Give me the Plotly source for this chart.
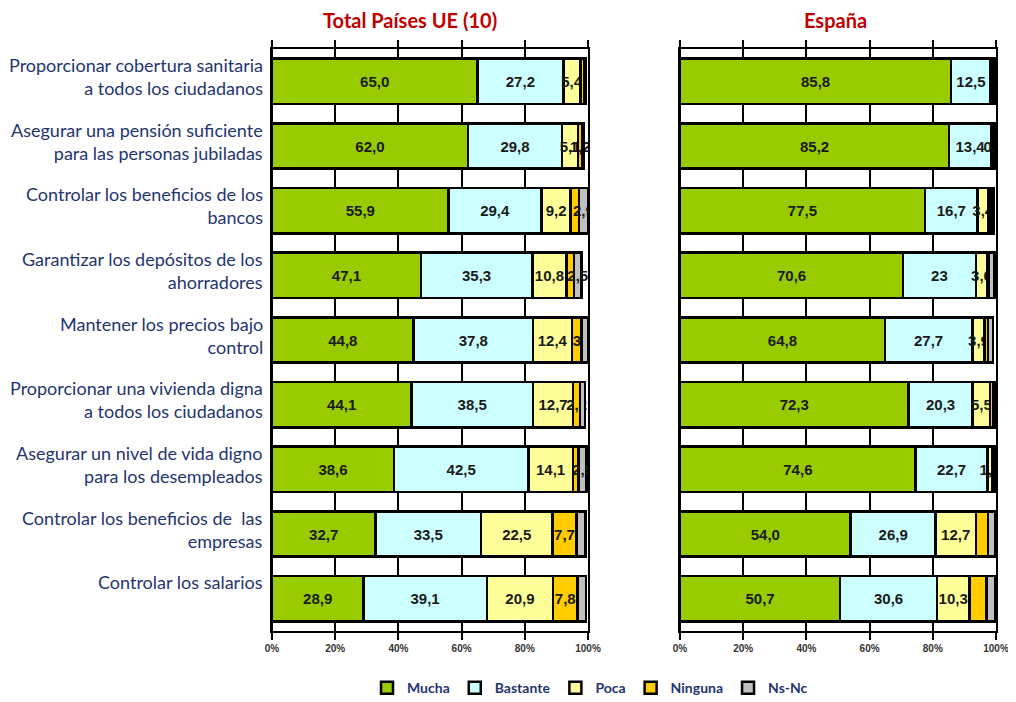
import plotly.graph_objects as go

categorias = [
    "Proporcionar cobertura sanitaria<br>a todos los ciudadanos",
    "Asegurar una pensión suficiente<br>para las personas jubiladas",
    "Controlar los beneficios de los<br>bancos",
    "Garantizar los depósitos de los<br>ahorradores",
    "Mantener los precios bajo<br>control",
    "Proporcionar una vivienda digna<br>a todos los ciudadanos",
    "Asegurar un nivel de vida digno<br>para los desempleados",
    "Controlar los beneficios de  las<br>empresas",
    "Controlar los salarios<br> ",
]

respuestas = ["Mucha", "Bastante", "Poca", "Ninguna", "Ns-Nc"]
colores = ["#99cc00", "#ccffff", "#ffff99", "#ffcc00", "#c0c0c0"]

# Total Países UE (10)
mucha_ue = [65.0, 62.0, 55.9, 47.1, 44.8, 44.1, 38.6, 32.7, 28.9]
bastante_ue = [27.2, 29.8, 29.4, 35.3, 37.8, 38.5, 42.5, 33.5, 39.1]
poca_ue = [5.4, 5.1, 9.2, 10.8, 12.4, 12.7, 14.1, 22.5, 20.9]
ninguna_ue = [1.2, 1.2, 2.6, 2.3, 3.0, 2.2, 1.8, 7.7, 7.8]
nsnc_ue = [0.6, 0.7, 2.9, 2.5, 2.0, 1.5, 2.5, 2.8, 2.7]

# España
mucha_es = [85.8, 85.2, 77.5, 70.6, 64.8, 72.3, 74.6, 54.0, 50.7]
bastante_es = [12.5, 13.4, 16.7, 23.0, 27.7, 20.3, 22.7, 26.9, 30.6]
poca_es = [0.8, 0.4, 3.4, 3.6, 3.9, 5.5, 1.5, 12.7, 10.3]
ninguna_es = [0.5, 0.7, 0.8, 0.4, 1.0, 0.9, 0.6, 3.9, 5.4]
nsnc_es = [0.4, 0.3, 0.8, 2.0, 1.6, 0.9, 0.6, 2.4, 2.9]

# etiquetas visibles en las barras ("" = sin etiqueta)
etiq_ue = [
    ["65,0", "62,0", "55,9", "47,1", "44,8", "44,1", "38,6", "32,7", "28,9"],
    ["27,2", "29,8", "29,4", "35,3", "37,8", "38,5", "42,5", "33,5", "39,1"],
    ["5,4", "5,1", "9,2", "10,8", "12,4", "12,7", "14,1", "22,5", "20,9"],
    ["", "1,2", "", "", "3", "2,2", "", "7,7", "7,8"],
    ["", "", "2,9", "2,5", "", "", "2,5", "", ""],
]
etiq_es = [
    ["85,8", "85,2", "77,5", "70,6", "64,8", "72,3", "74,6", "54,0", "50,7"],
    ["12,5", "13,4", "16,7", "23", "27,7", "20,3", "22,7", "26,9", "30,6"],
    ["", "", "3,4", "3,6", "3,9", "5,5", "1,5", "12,7", "10,3"],
    ["", "0,7", "", "", "", "", "", "", ""],
    ["", "", "", "", "", "", "", "", ""],
]

series_ue = [mucha_ue, bastante_ue, poca_ue, ninguna_ue, nsnc_ue]
series_es = [mucha_es, bastante_es, poca_es, ninguna_es, nsnc_es]

# la página añade 8 px de margen al body
ANCHO, ALTO = 1008, 694

fig = go.Figure()

for i, nombre in enumerate(respuestas):
    for valores, etiquetas, xa, ya, leyenda in [
        (series_ue[i], etiq_ue[i], "x", "y", True),
        (series_es[i], etiq_es[i], "x2", "y2", False),
    ]:
        fig.add_trace(
            go.Bar(
                x=valores,
                y=categorias,
                orientation="h",
                name=nombre,
                legendgroup=nombre,
                showlegend=leyenda,
                xaxis=xa,
                yaxis=ya,
                marker=dict(color=colores[i], line=dict(color="black", width=2.5)),
                text=etiquetas,
                textposition="inside",
                textangle=0,
                insidetextanchor="middle",
                textfont=dict(family="Liberation Sans", size=15, color="#1a1a1a", weight="bold"),
                hoverinfo="x+y+name",
            )
        )

eje_x = dict(
    range=[0, 100],
    tickvals=[0, 20, 40, 60, 80, 100],
    ticktext=["0%", "20%", "40%", "60%", "80%", "100%"],
    tickfont=dict(family="Arial", size=10, color="#333333", weight="bold"),
    showgrid=True,
    gridcolor="black",
    gridwidth=2,
    zeroline=True,
    zerolinecolor="black",
    zerolinewidth=2,
    showline=True,
    linecolor="black",
    linewidth=2,
    mirror="ticks",
    ticks="outside",
    ticklen=7,
    tickwidth=2,
    tickcolor="black",
    fixedrange=True,
)
eje_y = dict(
    autorange="reversed",
    showline=True,
    linecolor="black",
    linewidth=2,
    mirror=True,
    ticks="",
    showgrid=False,
    showticklabels=False,
)

# etiquetas de categoría, algo por encima del centro de la barra
notas = [
    dict(
        text=c,
        x=0,
        y=c,
        xref="x",
        yref="y",
        xanchor="right",
        yanchor="middle",
        align="right",
        xshift=-7,
        yshift=5,
        showarrow=False,
        font=dict(family="Lato", size=18, color="#1f3570"),
    )
    for c in categorias
]
for texto, xc in [("Total Países UE (10)", 402), ("España", 827)]:
    notas.append(
        dict(
            text=texto,
            x=xc / ANCHO,
            y=1,
            xref="paper",
            yref="paper",
            xanchor="center",
            yanchor="middle",
            yshift=29,
            showarrow=False,
            font=dict(family="Lato", size=20, color="#c00000", weight="bold"),
        )
    )

fig.update_layout(
    width=ANCHO,
    height=ALTO,
    barmode="stack",
    bargap=0.3,
    paper_bgcolor="white",
    plot_bgcolor="white",
    margin=dict(l=0, r=0, t=41, b=71, autoexpand=False),
    uniformtext=dict(minsize=15, mode="show"),
    xaxis=dict(domain=[264 / ANCHO, 580 / ANCHO], anchor="y", **eje_x),
    xaxis2=dict(domain=[672 / ANCHO, 988 / ANCHO], anchor="y2", **eje_x),
    yaxis=dict(anchor="x", **eje_y),
    yaxis2=dict(anchor="x2", matches="y", **eje_y),
    legend=dict(
        orientation="h",
        x=582 / ANCHO,
        xanchor="center",
        y=-0.098,
        yanchor="middle",
        font=dict(family="Lato", size=14, color="#1f3570", weight="bold"),
        itemwidth=30,
    ),
    annotations=notas,
)

fig.write_html("out.html")
